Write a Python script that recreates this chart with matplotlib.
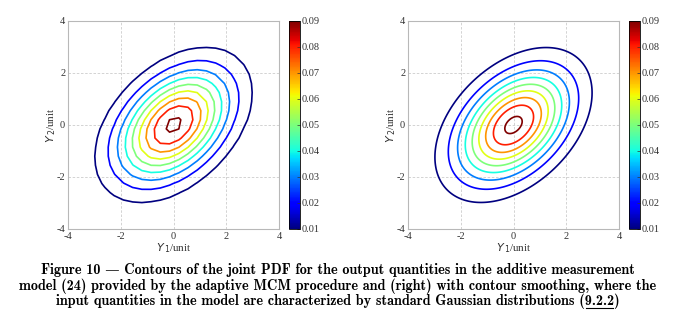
import numpy as np
import matplotlib
matplotlib.use("Agg")
import matplotlib.pyplot as plt
from matplotlib.lines import Line2D

plt.rcParams["axes.unicode_minus"] = False

# ---- data ----
peak_density = 0.0925          # density at the mode
center = [0.0, 0.0]            # mode of (Y1, Y2)
major_spread = 1.68            # spread along the (1, 1) direction
minor_spread = 1.08            # spread along the (1, -1) direction
levels = [0.01, 0.02, 0.03, 0.04, 0.05, 0.06, 0.07, 0.08, 0.09]
cbar_ticks = [0.01, 0.02, 0.03, 0.04, 0.05, 0.06, 0.07, 0.08, 0.09]
axis_ticks = [-4, -2, 0, 2, 4]
grid_step_left = 0.35   # coarse MCM histogram cells
grid_step_right = 0.05  # smoothed
caption = [
    "Figure 10 \u2014 Contours of the joint PDF for the output quantities in the additive measurement",
    "model (24) provided by the adaptive MCM procedure and (right) with contour smoothing, where the",
    "input quantities in the model are characterized by standard Gaussian distributions (",
]
caption_ref = "9.2.2"


def pdf_grid(step):
    g = np.arange(-4, 4 + step / 2, step)
    X, Y = np.meshgrid(g, g)
    u = ((X - center[0]) + (Y - center[1])) / np.sqrt(2)
    v = ((Y - center[1]) - (X - center[0])) / np.sqrt(2)
    q = (u / major_spread) ** 2 + (v / minor_spread) ** 2
    return X, Y, peak_density * np.exp(-q / 2)


W, H = 676, 336
fig = plt.figure(figsize=(W / 100, H / 100), dpi=100)
serif = ["Liberation Serif", "DejaVu Serif"]

panels = [(68, grid_step_left), (408, grid_step_right)]
for x0, step in panels:
    ax = fig.add_axes([x0 / W, 1 - 229 / H, 211 / W, 208 / H])
    X, Y, Z = pdf_grid(step)
    ax.contour(X, Y, Z, levels=levels, cmap="jet", vmin=0.01, vmax=0.09,
               linewidths=1.2)
    ax.set_xlim(-4, 4)
    ax.set_ylim(-4, 4)
    ax.set_xticks(axis_ticks)
    ax.set_yticks(axis_ticks)
    ax.grid(True, color="#cccccc", linestyle=(0, (3, 2)), linewidth=0.6)
    for s in ax.spines.values():
        s.set_color("#b8b8b8")
        s.set_linewidth(0.8)
    ax.tick_params(length=0, labelsize=7.5, pad=2, colors="#333333")
    for lab in ax.get_xticklabels() + ax.get_yticklabels():
        lab.set_family(serif)
    ax.set_xlabel(r"$Y_{\,1}$/unit", fontsize=8, family=serif, labelpad=0, color="#333333")
    ax.set_ylabel(r"$Y_{\,2}$/unit", fontsize=8, family=serif, labelpad=-1, color="#333333")

    cax = fig.add_axes([(x0 + 221) / W, 1 - 229 / H, 11 / W, 208 / H])
    sm = plt.cm.ScalarMappable(cmap="jet", norm=plt.Normalize(0.01, 0.09))
    cb = fig.colorbar(sm, cax=cax, ticks=cbar_ticks)
    cb.ax.tick_params(labelsize=7.5, length=2, width=0.5, direction="in", pad=1, colors="#333333")
    cb.ax.set_yticklabels(["%.2f" % t for t in cbar_ticks], family=serif)
    cb.outline.set_linewidth(0.6)

cap_kw = dict(ha="center", va="center", fontsize=10.25, family=["cmb10", "DejaVu Serif"])
ys = [270, 286, 301]
fig.text(0.5, 1 - ys[0] / H, caption[0], **cap_kw)
fig.text(0.5, 1 - ys[1] / H, caption[1], **cap_kw)

# third line with underlined reference
full3 = caption[2] + caption_ref + ")"
t3 = fig.text(0.5, 1 - ys[2] / H, full3, **cap_kw)
fig.canvas.draw()
r = fig.canvas.get_renderer()
bb = t3.get_window_extent(r)
tmp = fig.text(0, 0, caption[2], **cap_kw)
wpre = tmp.get_window_extent(r).width
tmp.set_text(caption[2] + caption_ref)
wref = tmp.get_window_extent(r).width
tmp.remove()
ux0 = (bb.x0 + wpre + 1) / W
ux1 = (bb.x0 + wref - 1) / W
uy = (bb.y0 + 1.0) / H
fig.add_artist(Line2D([ux0, ux1], [uy, uy], color="black", linewidth=0.8,
                      transform=fig.transFigure))

fig.savefig("out.png", dpi=100)
